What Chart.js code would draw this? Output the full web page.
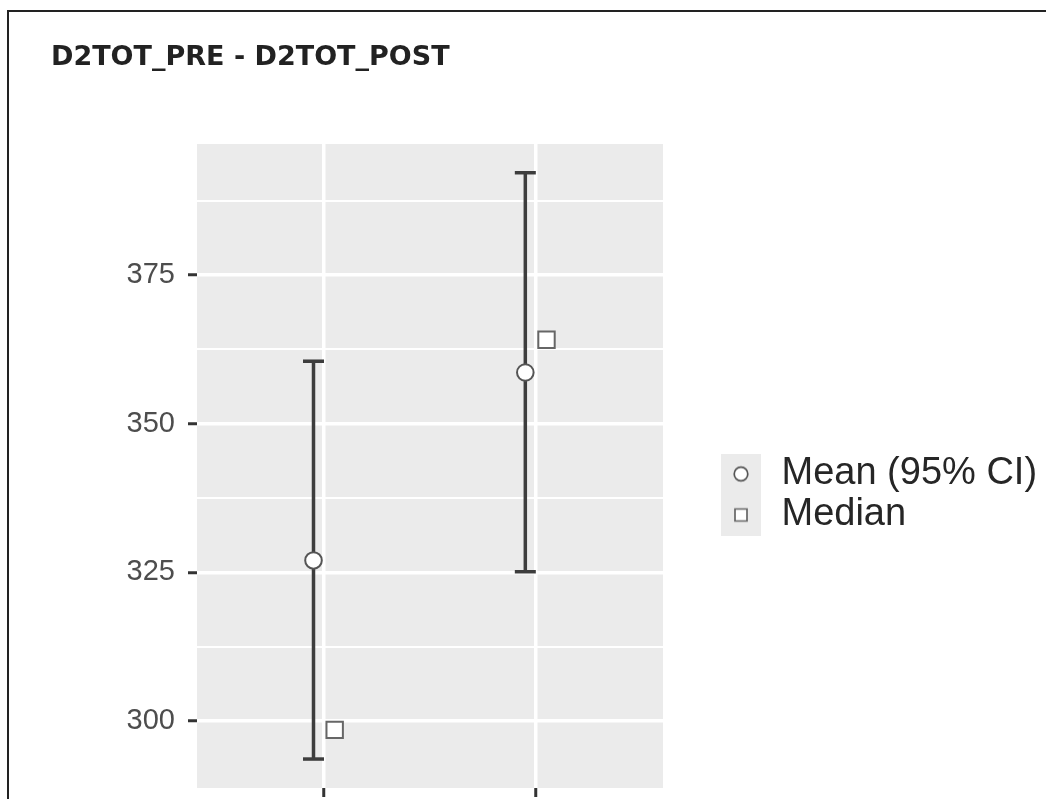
<!DOCTYPE html>
<html><head><meta charset="utf-8">
<script src="https://cdn.jsdelivr.net/npm/chart.js@4.4.1/dist/chart.umd.min.js"></script>
<style>
html,body{margin:0;padding:0;background:#fff;overflow:hidden;}
#wrap{position:relative;width:1046px;height:799px;overflow:hidden;}
#frame{position:absolute;left:7px;top:10px;width:1200px;height:1000px;border-top:2px solid #222;border-left:2px solid #222;pointer-events:none;}
canvas{display:block;}
</style></head><body>
<div id="wrap"><canvas id="c" width="1046" height="799"></canvas><div id="frame"></div></div>
<script>
// ---- data ----
const chartTitle = 'D2TOT_PRE - D2TOT_POST';
const categories = ['D2TOT_PRE', 'D2TOT_POST'];
const meanValues = [327.0, 358.6];
const ciLower = [293.6, 325.1];
const ciUpper = [360.5, 392.2];
const medianValues = [298.5, 364.1];
const yMajorTicks = [300, 325, 350, 375];
const yMinorTicks = [312.5, 337.5, 362.5, 387.5];
const legendLabels = ['Mean (95% CI)', 'Median'];

// ---- scale settings ----
const DODGE = 0.05;
const X_MIN = 0.4, X_MAX = 2.6;
const Y_MIN = 288.73, Y_MAX = 397.03;
const PAD_LEFT = 51, PLOT_LEFT = 197;

const meanPts = categories.map((c, i) => ({x: i + 1 - DODGE, y: meanValues[i]}));
const medianPts = categories.map((c, i) => ({x: i + 1 + DODGE, y: medianValues[i]}));
const errPts = [];
categories.forEach((c, i) => {
  const x = i + 1 - DODGE;
  errPts.push({x, y: ciLower[i]}, {x, y: ciUpper[i]}, {x, y: null});
});

function makeKey(kind) {
  const cv = document.createElement('canvas');
  cv.width = 40; cv.height = 41;
  const g = cv.getContext('2d');
  g.fillStyle = '#ebebeb'; g.fillRect(0, 0, 40, 41);
  g.lineWidth = 1.7; g.fillStyle = '#fff';
  g.beginPath();
  if (kind === 'circle') { g.strokeStyle = '#555'; g.arc(20, 20.5, 6.8, 0, Math.PI * 2); }
  else { g.strokeStyle = '#666'; g.rect(14, 14.5, 12, 12); }
  g.fill(); g.stroke();
  return cv;
}
const keyImages = [makeKey('circle'), makeKey('rect')];

const bgPlugin = {
  id: 'panelBg',
  beforeDraw(chart) {
    const {ctx, chartArea: a} = chart;
    ctx.save();
    ctx.fillStyle = '#fff'; ctx.fillRect(0, 0, chart.width, chart.height);
    ctx.fillStyle = '#ebebeb'; ctx.fillRect(a.left, a.top, a.right - a.left, a.bottom - a.top);
    ctx.restore();
  }
};
const legendPlace = {
  id: 'legendPlace',
  afterLayout(chart) {
    const lg = chart.legend; if (!lg) return;
    const a = chart.chartArea;
    lg.left = a.right + 53.5; lg.width = 340; lg.right = lg.left + lg.width;
    lg.top = 452; lg.height = 140; lg.bottom = lg.top + lg.height;
  }
};

Chart.defaults.font.family = '"Liberation Sans", Arial, sans-serif';

new Chart(document.getElementById('c'), {
  type: 'line',
  data: {
    datasets: [
      {label: legendLabels[0], data: meanPts, showLine: false, order: 1,
       pointStyle: 'circle', pointRadius: 8.3, pointBorderWidth: 2,
       pointBackgroundColor: '#fff', pointBorderColor: '#555'},
      {label: legendLabels[1], data: medianPts, showLine: false, order: 2,
       pointStyle: 'rect', pointRadius: 11.6, pointBorderWidth: 2,
       pointBackgroundColor: '#fff', pointBorderColor: '#666'},
      {label: 'CI', data: errPts, showLine: true, spanGaps: false, order: 3,
       borderColor: '#3d3d3d', borderWidth: 3.5, tension: 0,
       pointStyle: 'line', pointRadius: 10.5, pointBorderWidth: 3.5,
       pointBorderColor: '#3d3d3d', pointBackgroundColor: '#3d3d3d'}
    ]
  },
  options: {
    responsive: false, animation: false, devicePixelRatio: 1, events: [],
    layout: {autoPadding: false, padding: {left: PAD_LEFT, right: 83, top: 0, bottom: 0}},
    plugins: {
      tooltip: {enabled: false},
      title: {
        display: true, text: chartTitle, align: 'start', color: '#222',
        font: {family: '"DejaVu Sans", sans-serif', size: 27, weight: 'bold', lineHeight: 1.2},
        padding: {top: 41.5, bottom: 70.1}
      },
      legend: {
        display: true, position: 'right', align: 'start', maxWidth: 300, fullSize: false,
        labels: {
          usePointStyle: true, pointStyleWidth: 43, padding: 3, color: '#262626',
          font: {size: 38},
          generateLabels: () => legendLabels.map((t, i) => ({
            text: t, pointStyle: keyImages[i], fillStyle: '#fff', strokeStyle: '#555',
            lineWidth: 0, hidden: false, datasetIndex: i, fontColor: '#262626'
          }))
        }
      }
    },
    scales: {
      x: {
        type: 'linear', min: X_MIN, max: X_MAX,
        afterBuildTicks: s => { s.ticks = categories.map((c, i) => ({value: i + 1})); },
        afterFit: s => { s.height = 11; s.paddingLeft = 0; s.paddingRight = 0; },
        ticks: {display: false, callback: (v) => categories[Math.round(v) - 1] || ''},
        grid: {color: '#fff', lineWidth: 3.5, drawTicks: true, tickLength: 9, tickColor: '#333', tickWidth: 3},
        border: {display: false}
      },
      y: {
        type: 'linear', min: Y_MIN, max: Y_MAX,
        afterBuildTicks: s => { s.ticks = [...yMajorTicks, ...yMinorTicks].sort((a, b) => a - b).map(v => ({value: v})); },
        afterFit: s => { s.width = PLOT_LEFT - PAD_LEFT; s.paddingTop = 0; s.paddingBottom = 0; },
        ticks: {
          autoSkip: false, padding: 13, color: '#4d4d4d', font: {size: 29},
          callback: v => yMajorTicks.includes(v) ? String(v) : ''
        },
        grid: {
          color: '#fff', tickLength: 9,
          lineWidth: c => (c.tick && yMajorTicks.includes(c.tick.value)) ? 3.5 : 2,
          tickColor: c => (c.tick && yMajorTicks.includes(c.tick.value)) ? '#333' : 'rgba(0,0,0,0)',
          tickWidth: 3
        },
        border: {display: false}
      }
    }
  },
  plugins: [bgPlugin, legendPlace]
});
</script>
</body></html>
